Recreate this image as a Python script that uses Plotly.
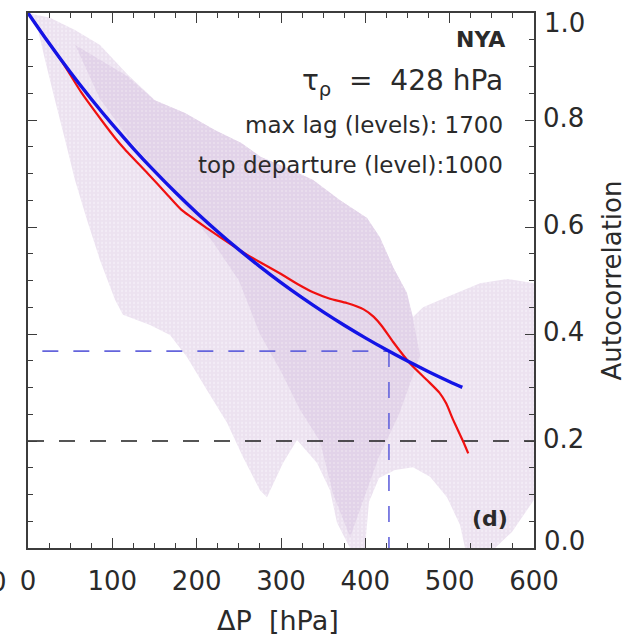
import plotly.graph_objects as go

# ---- data -------------------------------------------------------------
# pressure lag (hPa) and autocorrelation of the station-mean profile (red)
mean_dp = [0, 20, 40, 63, 87, 104, 115, 142, 166, 182, 213, 241, 262, 280,
           299, 320, 338, 358, 378, 398, 410, 420, 433, 453, 473, 488, 496,
           504, 516, 522]
mean_r = [1.0, 0.955, 0.910, 0.852, 0.800, 0.765, 0.745, 0.700, 0.659,
          0.632, 0.597, 0.567, 0.546, 0.530, 0.513, 0.493, 0.478, 0.466,
          0.458, 0.446, 0.432, 0.414, 0.385, 0.345, 0.314, 0.290, 0.270,
          0.240, 0.199, 0.177]

# exponential fit (blue)
fit_dp = [0, 25, 50, 75, 100, 125, 150, 175, 200, 225, 250, 275, 300,
          325, 350, 375, 400, 425, 450, 475, 500, 515]
fit_r = [1.0, 0.9433, 0.8897, 0.8393, 0.7917, 0.7467, 0.7044, 0.6644,
         0.6267, 0.5911, 0.5576, 0.5260, 0.4961, 0.4680, 0.4414, 0.4164,
         0.3928, 0.3705, 0.3494, 0.3296, 0.3109, 0.3002]

# envelope of the individual autocorrelation curves (lavender cloud)
cloud_dp = [0, 26.1, 55.7, 85.4, 118.6, 150.6, 186.2, 221.7, 252.6, 276.3,
            308.3, 338.0, 370.0, 402.0, 417.4, 432.8, 449.4, 456.5, 468.4,
            496.8, 536.0, 568.0, 600, 600, 573.9, 553.8, 518.2, 512.3,
            496.8, 476.7, 456.5, 435.2, 416.2, 404.3, 399.6, 381.8, 366.4,
            358.1, 342.7, 319.0, 302.4, 283.4, 275.1, 254.9, 236.0, 212.3,
            188.5, 168.4, 144.7, 112.6, 103.2, 85.4, 70.0, 55.7, 43.9,
            32.0, 20.2, 11.9]
cloud_r = [1.0, 0.991, 0.968, 0.940, 0.884, 0.837, 0.813, 0.781, 0.757,
           0.731, 0.710, 0.688, 0.650, 0.617, 0.581, 0.525, 0.477, 0.432,
           0.450, 0.469, 0.495, 0.503, 0.495, 0.090, 0.030, 0.0, 0.0,
           0.043, 0.095, 0.133, 0.151, 0.146, 0.131, 0.086, 0.0, 0.0,
           0.047, 0.108, 0.159, 0.202, 0.159, 0.095, 0.108, 0.170, 0.234,
           0.295, 0.357, 0.398, 0.417, 0.436, 0.464, 0.538, 0.613, 0.688,
           0.763, 0.837, 0.912, 0.968]

# denser core of the cloud
core_dp = [56, 118, 150, 186, 222, 253, 276, 308, 338, 370, 402, 417,
           433, 449, 456, 465, 440, 416, 400, 382, 362, 346, 322, 300,
           275, 250, 220, 190, 160, 122, 85]
core_r = [0.940, 0.882, 0.837, 0.813, 0.781, 0.757, 0.731, 0.710, 0.688,
          0.650, 0.617, 0.581, 0.525, 0.477, 0.432, 0.36, 0.25, 0.17,
          0.10, 0.02, 0.10, 0.20, 0.26, 0.33, 0.40, 0.50, 0.57, 0.63,
          0.69, 0.76, 0.84]

tau_hpa = 428          # e-folding depth
e_fold_r = 0.368       # 1/e
e_fold_start_dp = 17   # left end of the 1/e guide
threshold_r = 0.2

x_ticks = [0, 100, 200, 300, 400, 500, 600]
y_ticks = [0.2, 0.4, 0.6, 0.8]          # inner labels on the axis
y_end_ticks = [0.0, 1.0]                # end labels, nudged inside the frame

FONT = "DejaVu Sans"
INK = "#2a2a2a"
AXIS = "#3c3c3c"
DASH = "16px,15px"

fig = go.Figure()

fig.add_trace(go.Scatter(x=cloud_dp, y=cloud_r, fill="toself", mode="none",
                         fillcolor="rgb(236,226,240)",
                         fillpattern=dict(shape=".", fgcolor="rgb(250,246,251)",
                                          bgcolor="rgb(236,226,240)",
                                          size=4, solidity=0.25),
                         hoverinfo="skip"))
fig.add_trace(go.Scatter(x=core_dp, y=core_r, fill="toself", mode="none",
                         fillcolor="rgb(228,214,234)",
                         fillpattern=dict(shape=".", fgcolor="rgb(244,238,246)",
                                          bgcolor="rgb(226,211,233)",
                                          size=4, solidity=0.2),
                         hoverinfo="skip"))

# reference lines
fig.add_trace(go.Scatter(x=[0, 600], y=[threshold_r, threshold_r], mode="lines",
                         line=dict(color="#1e1e1e", width=1.6, dash=DASH)))
fig.add_trace(go.Scatter(x=[e_fold_start_dp, tau_hpa], y=[e_fold_r, e_fold_r],
                         mode="lines",
                         line=dict(color="#6464dc", width=1.6, dash=DASH)))
fig.add_trace(go.Scatter(x=[tau_hpa, tau_hpa], y=[e_fold_r, 0], mode="lines",
                         line=dict(color="#6464dc", width=1.6, dash=DASH)))

fig.add_trace(go.Scatter(x=mean_dp, y=mean_r, mode="lines",
                         line=dict(color="#f01010", width=2.2, shape="spline",
                                   smoothing=0.5)))
fig.add_trace(go.Scatter(x=fit_dp, y=fit_r, mode="lines",
                         line=dict(color="#1414e6", width=3.4, shape="spline")))

ann = [
    dict(x=568, y=0.950, text="NYA", xanchor="right", yanchor="middle",
         font=dict(size=22, family=FONT, color=INK, weight="bold")),
    dict(x=566, y=0.870, text=f"τ<sub>ρ</sub>  =  {tau_hpa} hPa",
         xanchor="right", yanchor="middle",
         font=dict(size=28, family=FONT, color=INK)),
    dict(x=566, y=0.791, text="max lag (levels): 1700", xanchor="right",
         yanchor="middle", font=dict(size=23, family=FONT, color=INK)),
    dict(x=566, y=0.716, text="top departure (level):1000", xanchor="right",
         yanchor="middle", font=dict(size=23, family=FONT, color=INK)),
    dict(x=548, y=0.056, text="(d)", xanchor="center", yanchor="middle",
         font=dict(size=22, family=FONT, color=INK, weight="bold")),
    # axis titles
    dict(xref="paper", yref="paper", x=0.494, y=-0.135, text="ΔP  [hPa]",
         xanchor="center", yanchor="middle",
         font=dict(size=27, family=FONT, color=INK)),
    dict(xref="paper", yref="paper", x=1.154, y=0.5, text="Autocorrelation",
         textangle=-90, xanchor="center", yanchor="middle",
         font=dict(size=26, family=FONT, color=INK)),
    # end labels of the correlation axis, kept inside the frame height
    dict(xref="paper", yref="paper", x=1.0158, y=0.0131,
         text=f"{y_end_ticks[0]:.1f}", xanchor="left", yanchor="middle",
         font=dict(size=26, family=FONT, color=INK)),
    dict(xref="paper", yref="paper", x=1.0158, y=0.9813,
         text=f"{y_end_ticks[1]:.1f}", xanchor="left", yanchor="middle",
         font=dict(size=26, family=FONT, color=INK)),
    # neighbouring panels cut by the frame
    dict(xref="paper", yref="paper", x=-0.0385, y=-0.0636, text="600",
         xanchor="right", yanchor="middle",
         font=dict(size=26, family=FONT, color=INK)),
    dict(xref="paper", yref="paper", x=0.494, y=1.0505, text="ΔP  [hPa]",
         xanchor="center", yanchor="middle",
         font=dict(size=27, family=FONT, color=INK)),
]
for a in ann:
    a.setdefault("xref", "x")
    a.setdefault("yref", "y")
    a["showarrow"] = False
fig.update_layout(annotations=ann)

fig.update_layout(
    width=632, height=635, autosize=False,
    margin=dict(l=28, r=98, t=13, b=87, pad=0, autoexpand=False),
    paper_bgcolor="white", plot_bgcolor="white",
    showlegend=False,
    font=dict(family=FONT, color=INK),
)
fig.update_xaxes(range=[0, 600], tickvals=x_ticks, ticktext=[str(v) for v in x_ticks],
                 automargin=False,
                 showgrid=False, zeroline=False, showline=True, linecolor=AXIS,
                 linewidth=1.6, mirror="ticks", ticks="inside", ticklen=10,
                 tickwidth=1.4, tickcolor=AXIS, ticklabelstandoff=9,
                 ticklabeloverflow="allow",
                 tickfont=dict(size=26, family=FONT, color=INK),
                 minor=dict(ticks="inside", ticklen=5, dtick=25, tick0=0,
                            tickwidth=1.2, tickcolor=AXIS))
fig.update_yaxes(range=[0, 1], side="right", tickvals=y_ticks,
                 ticktext=[f"{v:.1f}" for v in y_ticks],
                 automargin=False,
                 showgrid=False, zeroline=False, showline=True, linecolor=AXIS,
                 linewidth=1.6, mirror="ticks", ticks="inside", ticklen=9,
                 tickwidth=1.4, tickcolor=AXIS, ticklabelstandoff=2,
                 ticklabelshift=-2, ticklabeloverflow="allow",
                 tickfont=dict(size=26, family=FONT, color=INK),
                 minor=dict(ticks="inside", ticklen=5, dtick=0.05, tick0=0,
                            tickwidth=1.2, tickcolor=AXIS))

fig.write_html("out.html")
